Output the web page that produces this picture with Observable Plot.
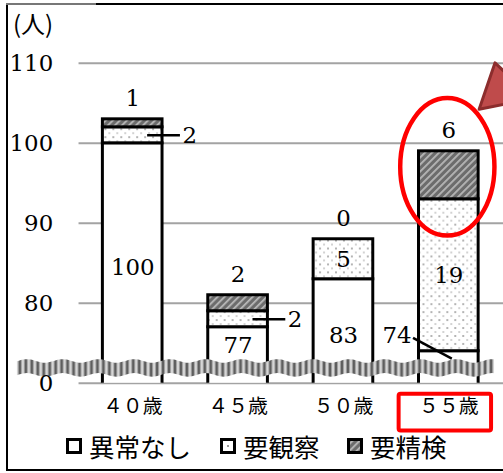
<!DOCTYPE html>
<html><head><meta charset="utf-8">
<script src="https://cdn.jsdelivr.net/npm/d3@7"></script>
<script src="https://cdn.jsdelivr.net/npm/@observablehq/plot@0.6"></script>
<style>
body{margin:0;background:#fff;overflow:hidden}
#wrap{position:relative;width:503px;height:473px;overflow:hidden;background:#fff}
#chart{position:absolute;left:0;top:0}
.frame{position:absolute;background:#000}
#unit{position:absolute;left:13px;top:5px;font:24px "Noto Sans CJK JP",sans-serif;color:#000}
.lg{position:absolute;top:430px;display:flex;align-items:center;font:25.5px "Noto Sans CJK JP",sans-serif;color:#000;line-height:32px}
.lg svg{margin-right:7px}
</style></head><body>
<div id="wrap">
<svg width="0" height="0" style="position:absolute"><defs>
<pattern id="dots" width="8" height="8" patternUnits="userSpaceOnUse">
<rect width="8" height="8" fill="#fff"/>
<rect x="1" y="1" width="2" height="2" fill="#b4b4b4"/>
<rect x="5" y="5" width="2" height="2" fill="#d2d2d2"/>
</pattern>
<pattern id="hatch" width="5" height="5" patternUnits="userSpaceOnUse" patternTransform="rotate(45)">
<rect width="5" height="5" fill="#6c6c6c"/>
<rect width="1.8" height="5" fill="#b8b8b8"/>
</pattern>
<pattern id="stripes" width="6" height="40" patternUnits="userSpaceOnUse">
<rect width="6" height="40" fill="#d6d6d6"/>
<rect x="0" width="1" height="40" fill="#a0a0a0"/>
<rect x="1" width="2" height="40" fill="#5e5e5e"/>
<rect x="3" width="1" height="40" fill="#a0a0a0"/>
</pattern>
</defs></svg>
<div id="chart"></div>
<div id="unit">(人)</div>
<div id="legend"></div>
<div class="frame" style="left:6px;top:3px;width:2px;height:468px"></div>
<div class="frame" style="left:6px;top:3px;width:90px;height:2px;background:#777"></div>
<div class="frame" style="left:96px;top:3px;width:420px;height:2px"></div>
<div class="frame" style="left:6px;top:469px;width:510px;height:2px"></div>
</div>
<script>
// ---- data ----
const ages = ["４０歳", "４５歳", "５０歳", "５５歳"];
const seriesNames = ["異常なし", "要観察", "要精検"];
const normalVals = [100, 77, 83, 74];
const observeVals = [2, 2, 5, 19];
const detailVals = [1, 2, 0, 6];
const yTickValues = [70, 80, 90, 100, 110];
const yTickLabels = ["0", "80", "90", "100", "110"];
const highlightAge = "５５歳";

// ---- derived tables ----
const fills = {"異常なし": "#ffffff", "要観察": "url(#dots)", "要精検": "url(#hatch)"};
const seriesVals = [normalVals, observeVals, detailVals];
const rows = [];
ages.forEach((a, i) => seriesVals.forEach((arr, j) => rows.push({age: a, series: seriesNames[j], value: arr[i]})));

const normalLab = ages.map((a, i) => ({age: a, value: normalVals[i], y: Math.max((69 + normalVals[i]) / 2, 74.75)}));
const observeLab = ages.map((a, i) => ({age: a, value: observeVals[i], y: normalVals[i] + observeVals[i] / 2}));
const detailLab = ages.map((a, i) => ({age: a, value: detailVals[i], y: normalVals[i] + observeVals[i] + detailVals[i]}));

const serif = "DejaVu Serif";
const fs = 23;
const W = 506, H = 425;

function bwOf(sx) { return typeof sx.bandwidth === "function" ? sx.bandwidth() : sx.bandwidth; }

// broken-axis wave band
function breakBand(index, scales, values, dim) {
  const sy = scales.y;
  const c = sy(71.85), h = 7, amp = 1.8, per = 36;
  const x0 = 17, x1 = 497;
  const top = [], bot = [];
  for (let x = x0; x <= x1; x += 2) {
    top.push([x, c - h + amp * Math.sin(2 * Math.PI * x / per)]);
    bot.push([x, c + h + amp * Math.sin(2 * Math.PI * x / per)]);
  }
  const pts = top.concat(bot.reverse());
  const g = d3.create("svg:g");
  g.append("path").attr("d", "M" + pts.map(p => p.join(",")).join("L") + "Z").attr("fill", "url(#stripes)");
  return g.node();
}

// 74 leader line + annotations
function annotations(index, scales, values, dim) {
  const sx = scales.x, sy = scales.y, bw = bwOf(sx);
  const cx = sx(highlightAge) + bw / 2;
  const g = d3.create("svg:g");
  g.append("line").attr("x1", cx - 35.5).attr("y1", sy(75.6)).attr("x2", cx + 3.5).attr("y2", sy(73))
    .attr("stroke", "#000").attr("stroke-width", 2.5);
  const cy = sy(97);
  g.append("ellipse").attr("cx", cx - 1).attr("cy", cy).attr("rx", bw * 0.79).attr("ry", sy(97) - sy(105.6))
    .attr("fill", "none").attr("stroke", "#ff0000").attr("stroke-width", 4.5);
  const tri = [[cx + 31, sy(104.2)], [cx + 47, sy(110)], [cx + 85, sy(105.5)]];
  g.append("polygon").attr("points", tri.map(p => p.join(",")).join(" "))
    .attr("fill", "#bf4b4b").attr("stroke", "#8c2d2d").attr("stroke-width", 3).attr("stroke-linejoin", "round");
  const yb = dim.height - dim.marginBottom;
  g.append("rect").attr("x", cx - 50).attr("y", yb + 11).attr("width", 93).attr("height", 37).attr("rx", 2)
    .attr("fill", "none").attr("stroke", "#ff0000").attr("stroke-width", 4);
  return g.node();
}

const plot = Plot.plot({
  width: W, height: H,
  marginLeft: 79, marginRight: 0, marginTop: 23, marginBottom: 40,
  x: {domain: ages, paddingInner: 0.43, paddingOuter: 0.215, axis: null},
  y: {domain: [70, 115], axis: null},
  color: {type: "identity"},
  style: {background: "transparent", overflow: "visible"},
  marks: [
    Plot.ruleY(yTickValues, {stroke: "#a3a3a3", strokeWidth: 2}),
    Plot.barY(rows, {x: "age", y: "value", z: "series", fill: d => fills[d.series], stroke: "#000", strokeWidth: 3, clip: true}),
    Plot.tickY(observeLab.filter(d => d.value < 5), {x: "age", y: "y", stroke: "#000", strokeWidth: 2.5, insetLeft: 45, insetRight: -18}),
    breakBand,
    Plot.axisY(yTickValues, {tickFormat: d => yTickLabels[yTickValues.indexOf(d)], tickSize: 0, tickPadding: 26, fontSize: fs, fontFamily: serif, label: null}),
    Plot.axisX({tickSize: 0, tickPadding: 16, fontSize: 20, fontFamily: "Noto Sans CJK JP", label: null}),
    Plot.text(normalLab.filter(d => d.age !== highlightAge), {x: "age", y: "y", text: d => String(d.value), fontSize: fs, fontFamily: serif}),
    Plot.text(normalLab.filter(d => d.age === highlightAge), {x: "age", y: "y", text: d => String(d.value), fontSize: fs, fontFamily: serif, dx: -52, dy: -10}),
    Plot.text(observeLab.filter(d => d.value >= 5), {x: "age", y: "y", text: d => String(d.value), fontSize: fs, fontFamily: serif}),
    Plot.text(observeLab.filter(d => d.value < 5), {x: "age", y: "y", text: d => String(d.value), fontSize: fs, fontFamily: serif, dx: 50, textAnchor: "start"}),
    Plot.text(detailLab, {x: "age", y: "y", text: d => String(d.value), fontSize: fs, fontFamily: serif, dy: -21}),
    annotations
  ]
});
document.getElementById("chart").appendChild(plot);

// legend
const swatchFill = {"異常なし": "#fff", "要観察": "#fff", "要精検": "url(#hatch)"};
const legendLeft = [66, 220, 347];
const lg = document.getElementById("legend");
seriesNames.forEach((s, i) => {
  const item = document.createElement("div");
  item.className = "lg";
  item.style.left = legendLeft[i] + "px";
  const dot = s === "要観察" ? '<rect x="7" y="7" width="2" height="2" fill="#999"/>' : "";
  item.innerHTML = `<svg width="16" height="16"><rect x="1.5" y="1.5" width="13" height="13" fill="${swatchFill[s]}" stroke="#000" stroke-width="3"/>${dot}</svg><span>${s}</span>`;
  lg.appendChild(item);
});
</script>
</body></html>
